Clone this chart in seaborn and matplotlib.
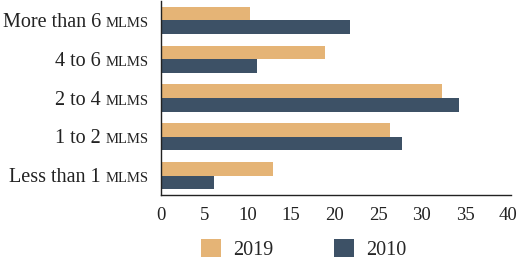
import matplotlib
matplotlib.use("Agg")
import matplotlib.pyplot as plt
import pandas as pd
import seaborn as sns

# data
categories = ["More than 6", "4 to 6", "2 to 4", "1 to 2", "Less than 1"]
unit = "MLMS"
years = ["2019", "2010"]
values_2019 = [10.2, 18.9, 32.4, 26.4, 12.9]
values_2010 = [21.8, 11.0, 34.3, 27.7, 6.1]
colors = ["#E5B476", "#3D5166"]

df = pd.DataFrame({
    "category": categories * 2,
    "year": [years[0]] * len(categories) + [years[1]] * len(categories),
    "value": values_2019 + values_2010,
})

sns.set_style("white")
plt.rcParams["font.family"] = ["Liberation Serif", "DejaVu Serif"]

fig = plt.figure(figsize=(5.18, 2.61), dpi=100)
ax = fig.add_axes([161 / 518, 1 - 195 / 261, 350 / 518, 194 / 261])

sns.barplot(data=df, x="value", y="category", hue="year", hue_order=years,
            palette=colors, order=categories, width=0.7, saturation=1,
            orient="h", linewidth=0, ax=ax)

ax.set_xlim(0, 40.3)
ax.set_xticks(range(0, 41, 5))
ax.tick_params(axis="x", labelsize=13.5, length=0, pad=9, colors="#222222")
ax.set_xlabel("")
ax.set_ylabel("")
ax.set_yticks(range(len(categories)))
ax.set_yticklabels([""] * len(categories))
ax.tick_params(axis="y", length=0)
for s in ["top", "right"]:
    ax.spines[s].set_visible(False)
for s in ["left", "bottom"]:
    ax.spines[s].set_color("#222222")
    ax.spines[s].set_linewidth(1.0)

# category labels with small-caps unit
ytr = ax.get_yaxis_transform()
for i, cat in enumerate(categories):
    small = ax.annotate(unit, xy=(0, i), xycoords=ytr, xytext=(-8.5, -4.8),
                        textcoords="offset points", ha="right", va="baseline",
                        fontsize=10.5, color="#222222")
    ax.annotate(cat + " ", xy=(0, i), xycoords=(small, ytr), xytext=(0, -4.8),
                textcoords="offset points", ha="right", va="baseline",
                fontsize=14.5, color="#222222")

ax.legend(loc="center", bbox_to_anchor=(0.586, 0.045),
          bbox_transform=fig.transFigure, ncol=2, frameon=False,
          fontsize=14.5, handlelength=1.0, handleheight=1.0,
          columnspacing=3.0, handletextpad=0.6, borderpad=0.2)

fig.savefig("out.png", dpi=100)
